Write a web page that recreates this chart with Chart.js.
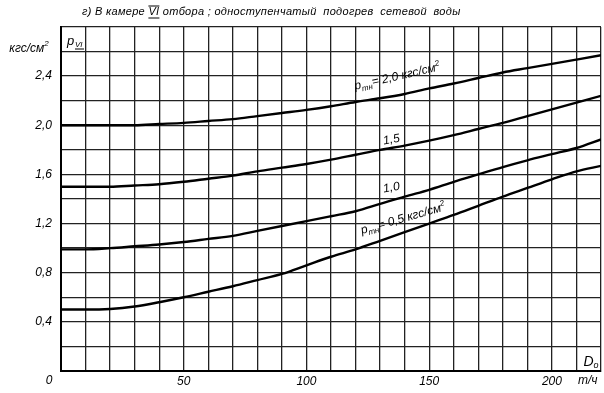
<!DOCTYPE html>
<html>
<head>
<meta charset="utf-8">
<script src="https://cdn.jsdelivr.net/npm/chart.js@4/dist/chart.umd.min.js"></script>
<style>
  html, body { margin: 0; padding: 0; background: #fff; }
  #wrap { width: 604px; height: 393px; }
</style>
</head>
<body>
<div id="wrap"><canvas id="chart"></canvas></div>
<script>
// расход пара D0, т/ч
const flowRates = [0, 10, 20, 30, 40, 50, 60, 70, 80, 90, 100, 110, 120, 130, 140, 150, 160, 170, 180, 190, 200, 210, 220];
// давление в камере VI отбора, кгс/см2, для разных p_тн
const pTn20 = [2.00, 2.00, 2.00, 2.00, 2.01, 2.02, 2.035, 2.05, 2.075, 2.10, 2.125, 2.155, 2.19, 2.22, 2.255, 2.30, 2.34, 2.385, 2.43, 2.465, 2.50, 2.535, 2.57];
const pTn15 = [1.50, 1.50, 1.50, 1.51, 1.52, 1.54, 1.565, 1.59, 1.625, 1.655, 1.685, 1.72, 1.76, 1.80, 1.835, 1.875, 1.92, 1.97, 2.02, 2.075, 2.13, 2.185, 2.24];
const pTn10 = [0.99, 0.99, 1.00, 1.015, 1.03, 1.05, 1.075, 1.10, 1.14, 1.18, 1.22, 1.26, 1.30, 1.36, 1.42, 1.475, 1.54, 1.60, 1.66, 1.715, 1.765, 1.815, 1.885];
const pTn05 = [0.50, 0.50, 0.505, 0.525, 0.56, 0.60, 0.645, 0.69, 0.74, 0.79, 0.86, 0.93, 0.99, 1.06, 1.13, 1.20, 1.27, 1.345, 1.42, 1.49, 1.56, 1.625, 1.67];
const xTickLabels = [50, 100, 150, 200];
const yTickLabels = [0.4, 0.8, 1.2, 1.6, 2.0, 2.4];

const FONT = "'Liberation Sans', 'DejaVu Sans', sans-serif";

function toPoints(ys) {
  return flowRates.map((x, i) => ({ x: x, y: ys[i] }));
}

function curve(ys) {
  return {
    data: toPoints(ys),
    borderColor: "#000",
    borderWidth: 2.4,
    pointRadius: 0,
    fill: false,
    cubicInterpolationMode: "monotone",
  };
}

// текст из кусков (индексы, степени), с поворотом
function drawRich(ctx, x, y, angle, segs) {
  ctx.save();
  ctx.translate(x, y);
  ctx.rotate(angle * Math.PI / 180);
  ctx.textBaseline = "alphabetic";
  ctx.textAlign = "left";
  let total = 0;
  segs.forEach(s => {
    ctx.font = "italic " + s.size + "px " + FONT;
    total += ctx.measureText(s.t).width;
  });
  let cx = -total / 2;
  segs.forEach(s => {
    ctx.font = "italic " + s.size + "px " + FONT;
    ctx.fillText(s.t, cx, s.dy || 0);
    cx += ctx.measureText(s.t).width;
  });
  ctx.restore();
}

const labelsPlugin = {
  id: "labels",
  afterDraw(chart) {
    const ctx = chart.ctx;
    const xs = chart.scales.x, ys = chart.scales.y;
    ctx.save();
    ctx.fillStyle = "#000";
    ctx.strokeStyle = "#000";

    // заголовок
    ctx.font = "italic 11px " + FONT;
    ctx.letterSpacing = "0.3px";
    ctx.textBaseline = "middle";
    ctx.textAlign = "left";
    const t1 = "г) В камере ";
    const t2 = "VI";
    const t3 = " отбора ; одноступенчатый  подогрев  сетевой  воды";
    let tx = 82;
    ctx.fillText(t1, tx, 12);
    tx += ctx.measureText(t1).width;
    const w2 = ctx.measureText(t2).width;
    ctx.fillText(t2, tx, 12);
    ctx.lineWidth = 1;
    ctx.beginPath();
    ctx.moveTo(tx, 6); ctx.lineTo(tx + w2, 6);
    ctx.moveTo(tx, 18); ctx.lineTo(tx + w2, 18);
    ctx.stroke();
    tx += w2;
    ctx.fillText(t3, tx, 12);
    ctx.letterSpacing = "0px";

    // единицы оси Y
    drawRich(ctx, 29, 52, 0, [
      { t: "кгс/см", size: 12 },
      { t: "2", size: 8, dy: -6 },
    ]);

    // p_VI в верхней клетке
    const px = xs.getPixelForValue(0) + 6;
    const py = ys.getPixelForValue(2.8) + 18;
    ctx.font = "italic 13px " + FONT;
    ctx.textAlign = "left";
    ctx.textBaseline = "alphabetic";
    ctx.fillText("p", px, py);
    ctx.font = "italic 8px " + FONT;
    ctx.fillText("VI", px + 8, py + 2);
    ctx.lineWidth = 1;
    ctx.beginPath();
    ctx.moveTo(px + 8, py + 4); ctx.lineTo(px + 17, py + 4);
    ctx.stroke();

    // D0 в нижней клетке
    const dx = xs.getPixelForValue(210) + 7;
    const dy = ys.getPixelForValue(0) - 5;
    ctx.font = "italic 14px " + FONT;
    ctx.fillText("D", dx, dy);
    ctx.font = "italic 9px " + FONT;
    ctx.fillText("o", dx + 10, dy + 2);

    // ноль и т/ч под осью
    ctx.font = "italic 12px " + FONT;
    ctx.textAlign = "center";
    ctx.textBaseline = "middle";
    ctx.fillText("0", xs.getPixelForValue(0) - 12, 381);
    ctx.fillText("т/ч", xs.getPixelForValue(215) - 1, 381);

    // подписи кривых
    drawRich(ctx, 398, 80, -13, [
      { t: "p", size: 12 },
      { t: "тн", size: 8, dy: 3 },
      { t: "= 2,0 кгс/см", size: 12 },
      { t: "2", size: 8, dy: -5 },
    ]);
    drawRich(ctx, 392, 143, -10, [{ t: "1,5", size: 12 }]);
    drawRich(ctx, 392, 191, -10, [{ t: "1,0", size: 12 }]);
    drawRich(ctx, 404, 222, -16, [
      { t: "p", size: 12 },
      { t: "тн", size: 8, dy: 3 },
      { t: "= 0,5 кгс/см", size: 12 },
      { t: "2", size: 8, dy: -5 },
    ]);
    ctx.restore();
  },
};

new Chart(document.getElementById("chart"), {
  type: "line",
  data: {
    datasets: [curve(pTn20), curve(pTn15), curve(pTn10), curve(pTn05)],
  },
  options: {
    responsive: true,
    maintainAspectRatio: false,
    animation: false,
    layout: { padding: { top: 27, right: 3, left: 0, bottom: 0 } },
    plugins: {
      legend: { display: false },
      tooltip: { enabled: false },
    },
    scales: {
      x: {
        type: "linear",
        min: 0,
        max: 220,
        afterFit(scale) { scale.height = 22; },
        ticks: {
          stepSize: 10,
          autoSkip: false,
          maxRotation: 0,
          padding: 3,
          color: "#000",
          font: { family: FONT, size: 12, style: "italic" },
          callback: v => (xTickLabels.includes(v) ? String(v) : ""),
        },
        grid: { color: "#222", lineWidth: 1.3, drawTicks: false },
        border: { color: "#000", width: 2 },
      },
      y: {
        min: 0,
        max: 2.8,
        afterFit(scale) { scale.width = 61; },
        ticks: {
          stepSize: 0.2,
          autoSkip: false,
          padding: 9,
          color: "#000",
          font: { family: FONT, size: 12, style: "italic" },
          callback: v => {
            const r = Math.round(v * 10) / 10;
            return yTickLabels.includes(r) ? r.toFixed(1).replace(".", ",") : "";
          },
        },
        grid: { color: "#222", lineWidth: 1.3, drawTicks: false },
        border: { color: "#000", width: 2 },
      },
    },
  },
  plugins: [labelsPlugin],
});
</script>
</body>
</html>
